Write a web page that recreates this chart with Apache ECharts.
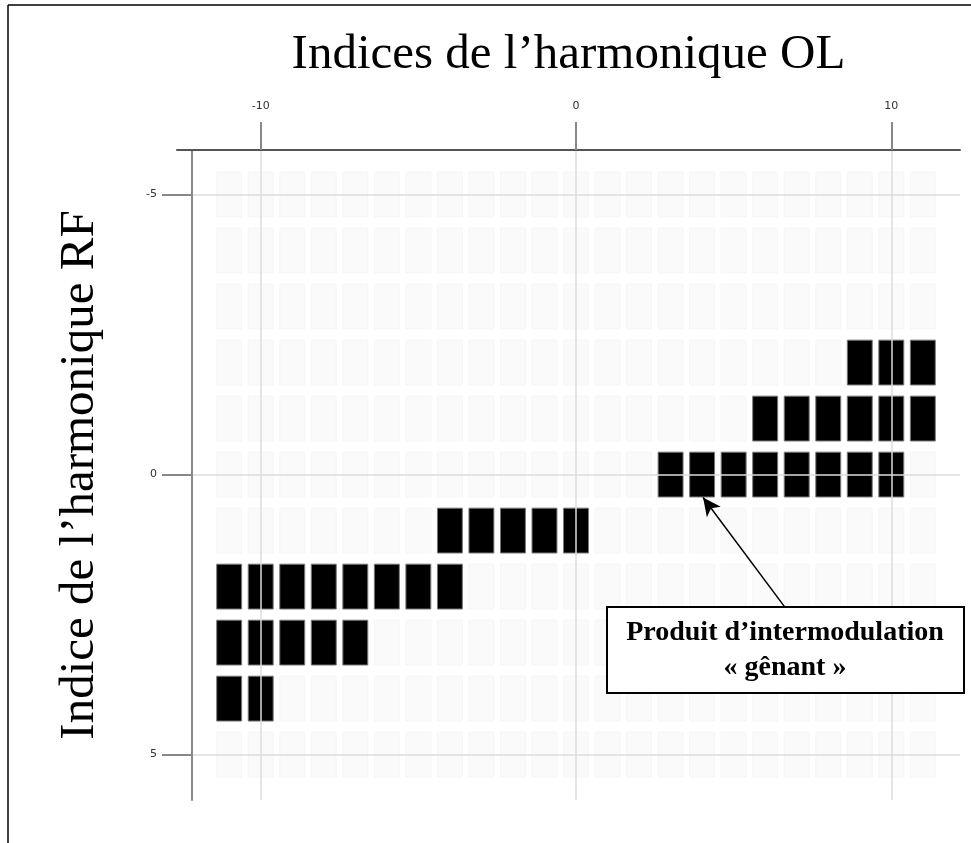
<!DOCTYPE html>
<html>
<head>
<meta charset="utf-8">
<script src="https://cdn.jsdelivr.net/npm/echarts@6/dist/echarts.min.js"></script>
<style>
html,body{margin:0;padding:0;background:#fff;}
#chart{width:971px;height:843px;}
</style>
</head>
<body>
<div id="chart"></div>
<script>
// Harmonic indices (background grid of cells)
const olIndices = [-11,-10,-9,-8,-7,-6,-5,-4,-3,-2,-1,0,1,2,3,4,5,6,7,8,9,10,11];
const rfIndices = [-5,-4,-3,-2,-1,0,1,2,3,4,5];

// Active (black) cells: RF index -> list of OL indices
const activeRfM2 = [9,10,11];
const activeRfM1 = [6,7,8,9,10,11];
const activeRf0  = [3,4,5,6,7,8,9,10];
const activeRf1  = [-4,-3,-2,-1,0];
const activeRf2  = [-11,-10,-9,-8,-7,-6,-5,-4];
const activeRf3  = [-11,-10,-9,-8,-7];
const activeRf4  = [-11,-10];

const xTickValues = [-10, 0, 10];
const yTickValues = [-5, 0, 5];

const xTitle = 'Indices de l\u2019harmonique OL';
const yTitle = 'Indice de l\u2019harmonique RF';
const noteText = 'Produit d\u2019intermodulation\n\u00ab g\u00eanant \u00bb';
// annotation arrow: from box (data coords) to the cell (4, 0)
const arrowFrom = [6.63, 2.37];
const arrowTo = [4.03, 0.41];

const bgCells = [];
rfIndices.forEach(function (r) { olIndices.forEach(function (o) { bgCells.push([o, r]); }); });

const activeRows = [[-2, activeRfM2], [-1, activeRfM1], [0, activeRf0], [1, activeRf1], [2, activeRf2], [3, activeRf3], [4, activeRf4]];
const activeCells = [];
activeRows.forEach(function (row) { row[1].forEach(function (o) { activeCells.push([o, row[0]]); }); });

function cellRenderer(fill, stroke) {
  return function (params, api) {
    const c = api.coord([api.value(0), api.value(1)]);
    const s = api.size([1, 1]);
    const w = s[0] * 0.79, h = s[1] * 0.8;
    return {
      type: 'rect',
      shape: { x: c[0] - w / 2, y: c[1] - h / 2, width: w, height: h },
      style: { fill: fill, stroke: stroke, lineWidth: 1 }
    };
  };
}

const chart = echarts.init(document.getElementById('chart'), null, { renderer: 'canvas' });
const option = {
  animation: false,
  backgroundColor: '#fff',
  grid: { left: 177, right: 11, top: 150, bottom: 43, containLabel: false },
  xAxis: {
    type: 'value',
    position: 'top',
    z: 5,
    min: -12.655,
    max: 12.179,
    name: xTitle,
    nameLocation: 'middle',
    nameGap: 70,
    nameTextStyle: { fontFamily: 'Liberation Serif', fontSize: 49, color: '#000' },
    axisLine: { show: true, onZero: false, lineStyle: { color: '#555', width: 2 } },
    axisTick: { show: true, length: 28, customValues: xTickValues, lineStyle: { color: '#888', width: 2 } },
    axisLabel: { show: true, customValues: xTickValues, margin: 38, fontFamily: 'DejaVu Sans', fontSize: 11, color: '#333' },
    splitLine: { show: true, lineStyle: { color: '#dcdcdc', width: 1.5 } }
  },
  yAxis: {
    type: 'value',
    inverse: true,
    z: 5,
    min: -5.795,
    max: 5.81,
    offset: -15,
    name: yTitle,
    nameLocation: 'middle',
    nameGap: 87,
    nameRotate: 90,
    nameTextStyle: { fontFamily: 'Liberation Serif', fontSize: 49, color: '#000' },
    axisLine: { show: true, onZero: false, lineStyle: { color: '#888', width: 2 } },
    axisTick: { show: true, length: 30, customValues: yTickValues, lineStyle: { color: '#888', width: 2 } },
    axisLabel: { show: true, customValues: yTickValues, margin: 35, fontFamily: 'DejaVu Sans', fontSize: 11, color: '#333' },
    splitLine: { show: true, lineStyle: { color: '#dcdcdc', width: 1.5 } }
  },
  series: [
    {
      type: 'custom',
      name: 'background',
      silent: true,
      renderItem: cellRenderer('#fafafa', '#f5f5f5'),
      data: bgCells,
      z: 1
    },
    {
      type: 'custom',
      name: 'active',
      silent: true,
      renderItem: cellRenderer('#000', '#777'),
      data: activeCells,
      z: 2,
      markLine: {
        silent: true,
        symbol: ['none', 'arrow'],
        symbolSize: [13, 18],
        lineStyle: { color: '#000', width: 1.5, type: 'solid' },
        label: { show: false },
        z: 8,
        data: [[{ coord: arrowFrom }, { coord: arrowTo }]]
      }
    }
  ],
  graphic: [
    { type: 'line', shape: { x1: 8, y1: 5, x2: 971, y2: 5 }, style: { stroke: '#000', lineWidth: 1.5 }, z: 10 },
    { type: 'line', shape: { x1: 8, y1: 5, x2: 8, y2: 843 }, style: { stroke: '#000', lineWidth: 1.5 }, z: 10 },
    {
      type: 'rect', z: 20,
      shape: { x: 607, y: 607, width: 357, height: 86 },
      style: { fill: '#fff', stroke: '#000', lineWidth: 2 }
    },
    {
      type: 'text', z: 21,
      x: 785, y: 650,
      style: {
        text: noteText,
        font: 'bold 28px "Liberation Serif"',
        fill: '#000',
        align: 'center',
        verticalAlign: 'middle',
        lineHeight: 35
      }
    }
  ]
};
chart.setOption(option);
</script>
</body>
</html>
